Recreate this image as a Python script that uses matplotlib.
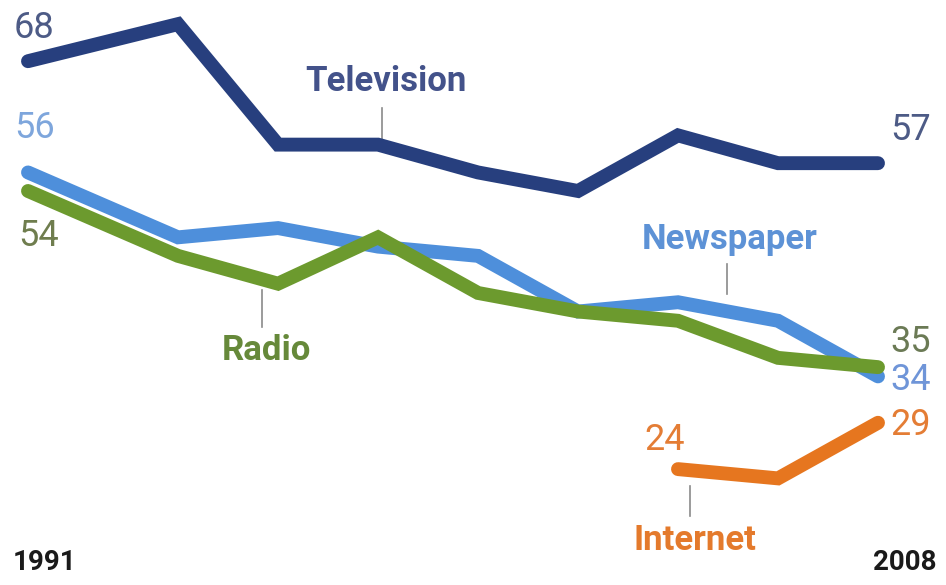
import matplotlib
matplotlib.use("Agg")
import matplotlib.pyplot as plt

years = [1991, 1994, 1996, 1998, 2000, 2002, 2004, 2006, 2008]
television = [68, 72, 59, 59, 56, 54, 60, 57, 57]
newspaper = [56, 49, 50, 48, 47, 41, 42, 40, 34]
radio = [54, 47, 44, 49, 43, 41, 40, 36, 35]
internet_years = [2004, 2006, 2008]
internet = [24, 23, 29]

TV_C = "#273f7e"
NEWS_C = "#4e8fdb"
RADIO_C = "#6c9a2e"
NET_C = "#e6761f"

plt.rcParams["font.family"] = ["Roboto", "DejaVu Sans"]

W, H = 946, 585
fig = plt.figure(figsize=(W / 100, H / 100), dpi=100)
ax = fig.add_axes([0, 0, 1, 1])
ax.set_xlim(1990.44, 2009.36)
ax.set_ylim(11.5, 74.6)
ax.axis("off")

kw = dict(linewidth=10, solid_capstyle="round", solid_joinstyle="miter")
ax.plot(years, newspaper, color=NEWS_C, zorder=2, **kw)
ax.plot(years, radio, color=RADIO_C, zorder=3, **kw)
ax.plot(years, television, color=TV_C, zorder=4, **kw)
ax.plot(internet_years, internet, color=NET_C, zorder=4, **kw)


def px(x, y):
    return x / W, 1 - y / H


def label(x, y, s, color, size=26, weight="normal", ha="left"):
    fx, fy = px(x, y)
    ax.text(fx, fy, s, transform=ax.transAxes, color=color, fontsize=size,
            fontweight=weight, ha=ha, va="center")


def leader(x, y0, y1):
    ax.plot([x / W, x / W], [1 - y0 / H, 1 - y1 / H], transform=ax.transAxes,
            color="#8a8a8a", linewidth=1.2)


# end values for each series
label(14, 28, str(television[0]), "#4d5b86")
label(14, 128, str(newspaper[0]), "#7ea6dc")
label(18, 236, str(radio[0]), "#6f7d4e")
label(890, 130, str(television[-1]), "#4d5b86")
label(890, 342, str(radio[-1]), "#6b7a55")
label(890, 380, str(newspaper[-1]), "#6f95d8")
label(890, 425, str(internet[-1]), "#e47d35")
label(644, 440, str(internet[0]), "#e47d35")

# series names with leader lines
label(386, 82, "Television", "#43528a", size=25, weight="bold", ha="center")
leader(382, 108, 142)
label(730, 240, "Newspaper", "#5d92d6", size=25, weight="bold", ha="center")
leader(727, 264, 294)
label(266, 351, "Radio", "#66893a", size=25, weight="bold", ha="center")
leader(262, 290, 327)
label(695, 540, "Internet", "#e47a2c", size=25, weight="bold", ha="center")
leader(690, 486, 516)

label(13, 563, str(years[0]), "#1a1a1a", size=20, weight="bold")
label(937, 563, str(years[-1]), "#1a1a1a", size=20, weight="bold", ha="right")

fig.savefig("out.png", dpi=100)
